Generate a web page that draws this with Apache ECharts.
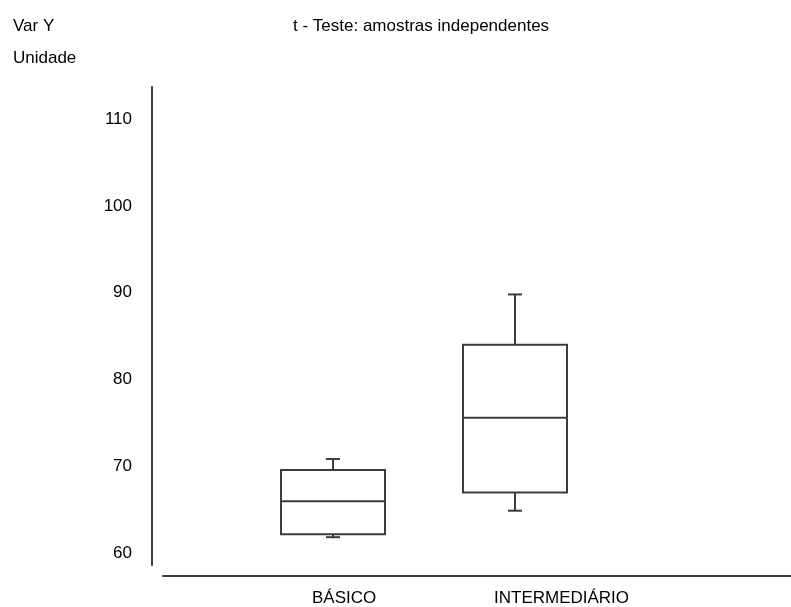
<!DOCTYPE html>
<html>
<head>
<meta charset="utf-8">
<script src="https://cdn.jsdelivr.net/npm/echarts@6/dist/echarts.min.js"></script>
<style>
  html, body { margin: 0; padding: 0; background: #fff; }
  #chart { width: 791px; height: 607px; }
</style>
</head>
<body>
<div id="chart"></div>
<script>
// data
var categories = ['BÁSICO', 'INTERMEDIÁRIO']
var whiskerLow = [61.85, 64.9]
var q1 = [62.2, 67.0]
var median = [66.0, 75.6]
var q3 = [69.6, 84.0]
var whiskerHigh = [70.85, 89.8]
var yTicks = [60, 70, 80, 90, 100, 110]

var FONT = '"Liberation Sans", Arial, sans-serif'
var LINE = '#3c3c3c'

var boxData = categories.map(function (c, i) {
    return [i, whiskerLow[i], q1[i], median[i], q3[i], whiskerHigh[i]]
})

var chart = echarts.init(document.getElementById('chart'))

function renderBox(params, api) {
    var x = api.value(0)
    var pLow = api.coord([x, api.value(1)])
    var pQ1 = api.coord([x, api.value(2)])
    var pMed = api.coord([x, api.value(3)])
    var pQ3 = api.coord([x, api.value(4)])
    var pHigh = api.coord([x, api.value(5)])
    var half = 52
    var cap = 7
    var cx = pMed[0]
    var style = { stroke: LINE, lineWidth: 2, fill: null }
    return {
        type: 'group',
        children: [
            { type: 'rect', shape: { x: cx - half, y: pQ3[1], width: half * 2, height: pQ1[1] - pQ3[1] }, style: { stroke: LINE, lineWidth: 2, fill: '#fff' } },
            { type: 'line', shape: { x1: cx - half, y1: pMed[1], x2: cx + half, y2: pMed[1] }, style: style },
            { type: 'line', shape: { x1: cx, y1: pQ3[1], x2: cx, y2: pHigh[1] }, style: style },
            { type: 'line', shape: { x1: cx - cap, y1: pHigh[1], x2: cx + cap, y2: pHigh[1] }, style: style },
            { type: 'line', shape: { x1: cx, y1: pQ1[1], x2: cx, y2: pLow[1] }, style: style },
            { type: 'line', shape: { x1: cx - cap, y1: pLow[1], x2: cx + cap, y2: pLow[1] }, style: style }
        ]
    }
}

var titleStyle = { fontSize: 17, fontWeight: 'normal', color: '#000', fontFamily: FONT }

var option = {
    backgroundColor: '#fff',
    animation: false,
    textStyle: { fontFamily: FONT },
    title: [
        { text: 'Var Y', left: 8, top: 13, textStyle: titleStyle },
        { text: 'Unidade', left: 8, top: 45, textStyle: titleStyle },
        { text: 't - Teste: amostras independentes', left: 288, top: 13, textStyle: titleStyle }
    ],
    grid: [
        // boxes
        { left: 242, width: 364, top: 87, bottom: 42 },
        // category labels
        { left: 221, width: 364, top: 87, bottom: 31 },
        // horizontal axis line
        { left: 163, right: 0, top: 87, bottom: 31 }
    ],
    xAxis: [
        {
            gridIndex: 0, type: 'category', data: categories,
            axisLine: { show: false }, axisTick: { show: false }, axisLabel: { show: false }
        },
        {
            gridIndex: 1, type: 'category', data: categories,
            axisLine: { show: false }, axisTick: { show: false },
            axisLabel: { align: 'left', margin: 15, fontSize: 17, color: '#000', fontFamily: FONT }
        },
        {
            gridIndex: 2, type: 'value', min: 0, max: 1,
            axisLine: { show: true, lineStyle: { color: LINE, width: 2 } },
            axisTick: { show: false }, axisLabel: { show: false }, splitLine: { show: false }
        }
    ],
    yAxis: [
        {
            gridIndex: 0, type: 'value', min: 58.65, max: 113.68, offset: 90,
            axisLine: { show: true, lineStyle: { color: LINE, width: 2 } },
            axisTick: { show: false },
            splitLine: { show: false },
            axisLabel: { customValues: yTicks, margin: 20, fontSize: 17, color: '#000', fontFamily: FONT }
        },
        { gridIndex: 1, type: 'value', show: false },
        { gridIndex: 2, type: 'value', show: false }
    ],
    series: [
        {
            type: 'custom',
            xAxisIndex: 0,
            yAxisIndex: 0,
            renderItem: renderBox,
            encode: { x: 0, y: [1, 2, 3, 4, 5] },
            data: boxData
        }
    ]
}

chart.setOption(option)
</script>
</body>
</html>
